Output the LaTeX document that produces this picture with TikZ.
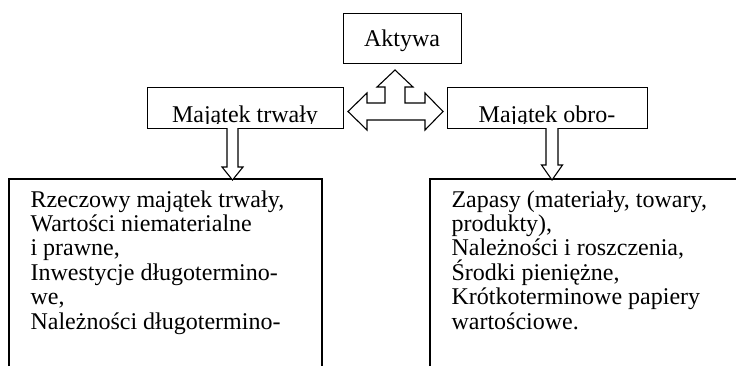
\documentclass[tikz,border=0pt]{standalone}
\usepackage{fontspec}
\setmainfont{Liberation Serif}
\begin{document}
\begin{tikzpicture}[x=1bp,y=-1bp, line width=1.1bp,
  box/.style={draw, rectangle, inner sep=0pt, anchor=north west},
  txt/.style={font=\fontsize{24bp}{24.4bp}\selectfont, inner sep=0pt},
  lst/.style={txt, align=left, anchor=base west},
  barrow/.style={draw, fill=white, line join=miter}]
\useasboundingbox (0,0) rectangle (736,366);
% top box
\node[box, minimum width=118bp, minimum height=50bp] (akt) at (343,13) {};
\node[txt, anchor=base] (akttxt) at (402,46) {Aktywa};
% middle boxes
\node[box, minimum width=196bp, minimum height=41bp] (mt) at (147,87) {};
\node[box, minimum width=200bp, minimum height=41bp] (mo) at (447,87) {};
\begin{scope}
  \clip (147,87) rectangle (647,123);
  \node[txt, anchor=base] (mttxt) at (245,122) {Majątek trwały};
  \node[txt, anchor=base] (motxt) at (547,122) {Majątek obro-};
\end{scope}
% bottom boxes (open at the cut edges)
\coordinate (bl1) at (9,366); \coordinate (bl2) at (9,179);
\coordinate (bl3) at (322,179); \coordinate (bl4) at (322,366);
\draw (bl1) -- (bl2) -- (bl3) -- (bl4);
\coordinate (br1) at (430,366); \coordinate (br2) at (430,179);
\coordinate (br3) at (737,179);
\draw (br1) -- (br2) -- (br3);
\node[lst] (bltxt) at (30,329) {Rzeczowy majątek trwały,\\Wartości niematerialne\\i prawne,\\Inwestycje długotermino-\\we,\\Należności długotermino-};
\node[lst] (brtxt) at (451,329) {Zapasy (materiały, towary,\\produkty),\\Należności i roszczenia,\\Środki pieniężne,\\Krótkoterminowe papiery\\wartościowe.};
% three-way block arrow
\draw[barrow] (395,70) -- (413,87) -- (405,87) -- (405,103) -- (425,103) -- (425,93)
  -- (443,111.5) -- (425,130) -- (425,120) -- (367,120) -- (367,130) -- (348,111.5)
  -- (367,93) -- (367,103) -- (385,103) -- (385,87) -- (377,87) -- cycle;
% down block arrows
\draw[barrow] (227,128) -- (227,167) -- (222,167) -- (232.5,180) -- (243,167) -- (238,167) -- (238,128);
\draw[barrow] (546,128) -- (546,165) -- (541.5,165) -- (552,180) -- (562.5,165) -- (558,165) -- (558,128);
\end{tikzpicture}
\end{document}
